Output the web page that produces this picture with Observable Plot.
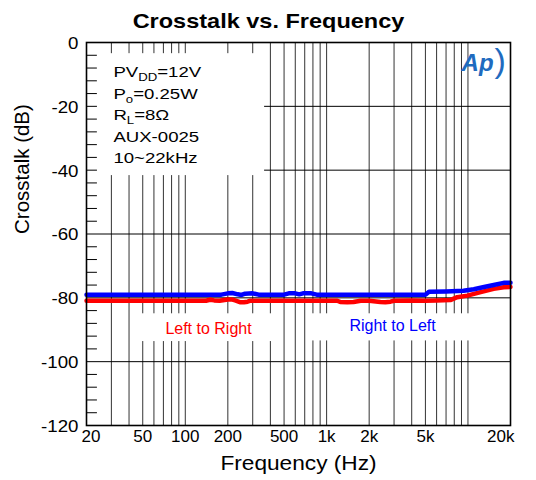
<!DOCTYPE html>
<html><head><meta charset="utf-8">
<script src="https://cdn.jsdelivr.net/npm/d3@7"></script>
<script src="https://cdn.jsdelivr.net/npm/@observablehq/plot@0.6"></script>
<style>
html,body{margin:0;padding:0;background:#fff}
#chart svg{display:block;font-family:"Liberation Sans",Arial,sans-serif}
</style>
</head><body><div id="chart"></div>
<script>
// ---- text ----
const title = "Crosstalk vs. Frequency";
const xLabel = "Frequency (Hz)";
const yLabel = "Crosstalk (dB)";

// ---- ticks ----
const xTickValues = [20, 50, 100, 200, 500, 1000, 2000, 5000, 20000];
const xTickLabels = ["20", "50", "100", "200", "500", "1k", "2k", "5k", "20k"];
const xGridValues = [30, 40, 50, 60, 70, 80, 90, 100, 200, 300, 400, 500, 600, 700, 800, 900,
  1000, 2000, 3000, 4000, 5000, 6000, 7000, 8000, 9000, 10000];
const yTickValues = [0, -20, -40, -60, -80, -100, -120];
const yTickLabels = ["0", "-20", "-40", "-60", "-80", "-100", "-120"];
const yMinorValues = [-4, -8, -12, -16, -24, -28, -32, -36, -44, -48, -52, -56, -64, -68, -72, -76,
  -84, -88, -92, -96, -104, -108, -112, -116];

// ---- series: Left to Right (red) ----
const leftToRightFreq = [20, 140, 150, 160, 175, 200, 212, 225, 246, 260, 276, 290, 400, 700, 1000, 1190,
  1250, 1400, 1550, 1740, 2000, 2400, 2600, 2830, 3000, 4000, 5000, 6000, 7500, 8400, 9900, 12300, 15200, 17900, 20000];
const leftToRightDb = [-80.9, -80.9, -80.6, -80.8, -80.9, -80.5, -80.5, -80.8, -81.4, -81.4, -81.2, -80.9, -80.9, -80.9, -80.9, -80.9,
  -81.3, -81.4, -81.3, -80.9, -80.9, -81.3, -81.4, -81.2, -80.9, -80.8, -80.9, -80.8, -80.7, -79.8, -79.3, -78.2, -77.2, -76.7, -76.6];

// ---- series: Right to Left (blue) ----
const rightToLeftFreq = [20, 180, 200, 215, 235, 250, 265, 300, 330, 500, 540, 600, 640, 680, 780, 850,
  2000, 4000, 5000, 5300, 7000, 9300, 11000, 13000, 15200, 17900, 20000];
const rightToLeftDb = [-79.0, -79.0, -78.6, -78.5, -78.9, -79.1, -78.7, -78.6, -79.0, -79.0, -78.6, -78.6, -78.9, -78.6, -78.6, -79.0,
  -79.0, -79.0, -79.0, -78.1, -78.0, -77.8, -77.3, -76.6, -76.0, -75.3, -75.3];

// ---- annotations ----
const seriesNames = ["Left to Right", "Right to Left"];
const seriesColors = ["#ff0000", "#0000ff"];
const paramMain = ["PV", "P", "R", "AUX-0025", "10~22kHz"];
const paramSub = ["DD", "o", "L", "", ""];
const paramTail = ["=12V", "=0.25W", "=8\u03A9", "", ""];
const paramFull = paramMain.map((m, i) => m + paramSub[i] + paramTail[i]);

// white label boxes (frequency / dB extents)
const boxF1 = [23.9, 44.8, 750];
const boxF2 = [364, 457, 19800];
const boxDb1 = [-3.5, -85, -85];
const boxDb2 = [-41.7, -93.7, -93.5];
const boxes = boxF1.map((f, i) => ({f1: f, f2: boxF2[i], d1: boxDb1[i], d2: boxDb2[i]}));

const lr = leftToRightFreq.map((f, i) => ({f, db: leftToRightDb[i]}));
const rl = rightToLeftFreq.map((f, i) => ({f, db: rightToLeftDb[i]}));
const seriesLabels = [
  {name: seriesNames[0], f: 146, db: -89.8, color: seriesColors[0]},
  {name: seriesNames[1], f: 2930, db: -88.7, color: seriesColors[1]}
];
const nX = xTickValues.length;

const chart = Plot.plot({
  width: 536,
  height: 480,
  marginLeft: 86,
  marginRight: 26,
  marginTop: 42,
  marginBottom: 55,
  style: {background: "#fff", color: "#000", fontFamily: "'Liberation Sans', Arial, sans-serif"},
  x: {type: "log", domain: [20, 20000], axis: null},
  y: {domain: [-120, 0], axis: null},
  marks: [
    Plot.ruleX(xGridValues, {stroke: "#333", strokeWidth: 1}),
    Plot.ruleY(yTickValues, {stroke: "#000", strokeWidth: 1}),
    Plot.ruleY(yMinorValues, {x1: 20, x2: 23.9, stroke: "#000", strokeWidth: 1}),
    Plot.rect(boxes, {x1: "f1", x2: "f2", y1: "d1", y2: "d2", fill: "#fff"}),
    Plot.line(lr, {x: "f", y: "db", stroke: seriesColors[0], strokeWidth: 4.5, strokeLinejoin: "round"}),
    Plot.line(rl, {x: "f", y: "db", stroke: seriesColors[1], strokeWidth: 4.5, strokeLinejoin: "round"}),
    Plot.text(seriesLabels, {x: "f", y: "db", text: "name", fill: "color", fontSize: 16}),
    Plot.text(paramFull, {x: () => 31, y: (d, i) => -9.3 - i * 6.73, text: d => d, textAnchor: "start", fontSize: 15.5, fill: "#000"}),
    Plot.text(["Ap"], {x: () => 11700, y: () => -6.5, fontSize: 24, fontStyle: "italic", fontWeight: "bold", fill: "#1f6bbf"}),
    Plot.text([")"], {x: () => 16900, y: () => -5.8, fontSize: 34, fill: "#1f6bbf"}),
    Plot.frame({stroke: "#000", strokeWidth: 1.6}),
    Plot.text(xTickValues, {filter: (d, i) => i > 0 && i < nX - 1, x: d => d, text: d => xTickLabels[xTickValues.indexOf(d)], frameAnchor: "bottom", dy: 16, fontSize: 17}),
    Plot.text(xTickValues, {filter: (d, i) => i === 0, x: d => d, text: d => xTickLabels[xTickValues.indexOf(d)], frameAnchor: "bottom", dy: 16, dx: -5, textAnchor: "start", fontSize: 17}),
    Plot.text(xTickValues, {filter: (d, i) => i === nX - 1, x: d => d, text: d => xTickLabels[xTickValues.indexOf(d)], frameAnchor: "bottom", dy: 16, dx: 4, textAnchor: "end", fontSize: 17}),
    Plot.text(yTickValues, {y: d => d, text: (d, i) => yTickLabels[i], frameAnchor: "left", dx: -8, dy: 1, textAnchor: "end", fontSize: 17}),
    Plot.text([xLabel], {frameAnchor: "bottom", dy: 44, fontSize: 21}),
    Plot.text([yLabel], {frameAnchor: "left", dx: -64, rotate: -90, fontSize: 20.5}),
    Plot.text([title], {frameAnchor: "top", dx: -30, dy: -29, fontSize: 21, fontWeight: "bold"})
  ]
});

// subscripts and horizontal stretch for some texts
const ns = "http://www.w3.org/2000/svg";
chart.querySelectorAll("text").forEach(t => {
  const i = paramFull.indexOf(t.textContent);
  const tr = t.getAttribute("transform") || "";
  if (i >= 0) {
    t.textContent = "";
    const a = document.createElementNS(ns, "tspan");
    a.textContent = paramMain[i];
    t.appendChild(a);
    if (paramSub[i]) {
      const b = document.createElementNS(ns, "tspan");
      b.textContent = paramSub[i];
      b.setAttribute("font-size", "11");
      b.setAttribute("dy", "4");
      t.appendChild(b);
      const c = document.createElementNS(ns, "tspan");
      c.textContent = paramTail[i];
      c.setAttribute("dy", "-4");
      t.appendChild(c);
    }
    t.setAttribute("transform", tr + " scale(1.2,1)");
  } else if (t.textContent === title) {
    t.setAttribute("transform", tr + " scale(1.12,1)");
  } else if (t.textContent === xLabel) {
    t.setAttribute("transform", tr + " scale(1.08,1)");
  } else if (yTickLabels.includes(t.textContent)) {
    t.setAttribute("transform", tr + " scale(1.1,1)");
  }
});
document.getElementById("chart").appendChild(chart);
</script>
</body></html>
